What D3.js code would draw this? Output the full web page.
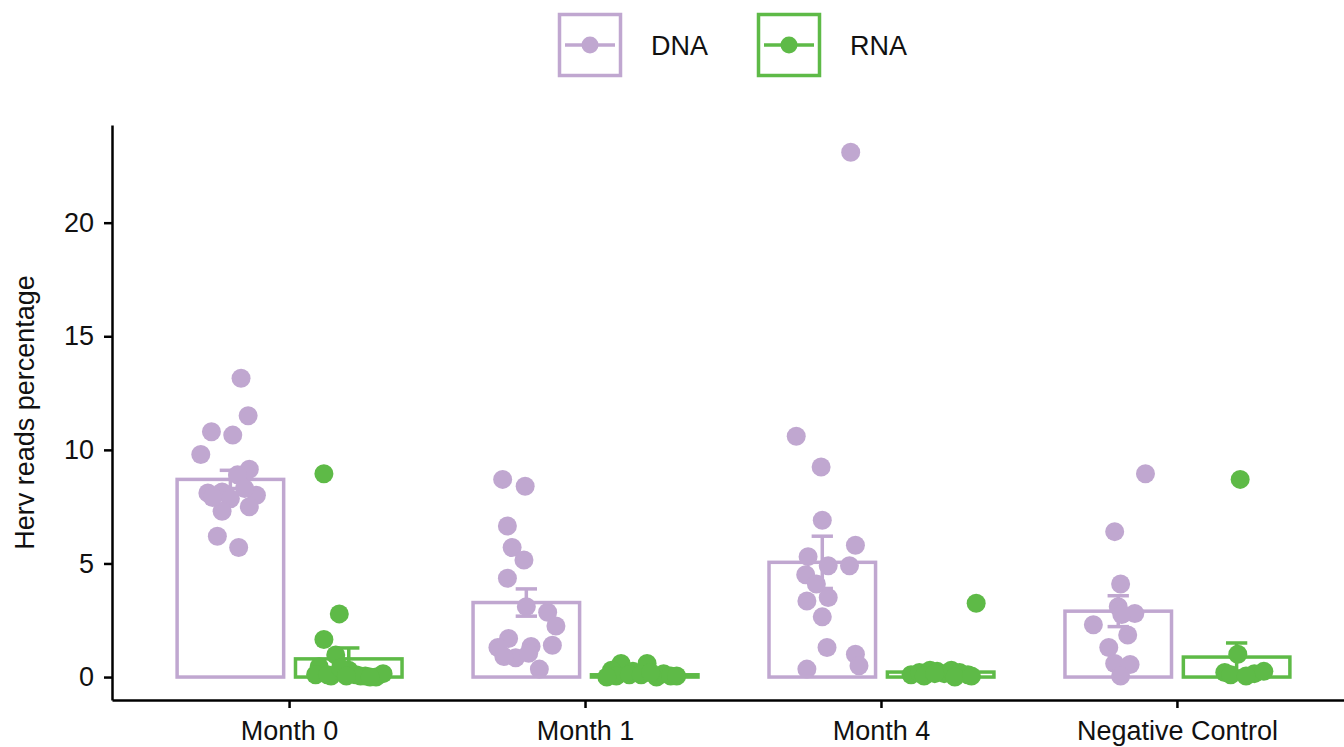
<!DOCTYPE html>
<html>
<head>
<meta charset="utf-8">
<script src="https://cdn.jsdelivr.net/npm/d3@7"></script>
<style>
  body { margin: 0; background: #fff; }
  svg { display: block; font-family: "Liberation Sans", Arial, sans-serif; }
</style>
</head>
<body>
<svg id="chart" width="1344" height="747"></svg>
<script>
'use strict';

const categories = ['Month 0', 'Month 1', 'Month 4', 'Negative Control'];
const types = ['DNA', 'RNA'];
const yTicks = [0, 5, 10, 15, 20];

// bar heights and standard errors, one per category
const dnaMean = [8.7, 3.28, 5.05, 2.9];
const dnaSe = [0.4, 0.6, 1.15, 0.68];
const rnaMean = [0.8, 0.1, 0.22, 0.88];
const rnaSe = [0.48, 0.06, 0.12, 0.62];

// individual samples: [value, jitter (fraction of dodge width)]
const dnaPoints = [
  [[13.15, 0.09], [11.5, 0.15], [10.8, -0.16], [10.65, 0.02], [9.8, -0.25], [9.15, 0.16], [8.9, 0.06],
   [8.1, -0.19], [8.15, -0.07], [8.0, 0.22], [7.85, 0.0], [8.3, 0.12], [7.3, -0.07], [7.5, 0.16],
   [6.2, -0.11], [5.7, 0.07], [7.9, -0.15]],
  [[8.7, -0.2], [8.4, -0.01], [6.65, -0.16], [5.7, -0.12], [5.15, -0.02], [4.35, -0.16], [3.1, 0.0],
   [2.85, 0.18], [2.25, 0.25], [1.4, 0.22], [1.7, -0.15], [1.3, -0.24], [0.85, -0.09], [1.35, 0.04],
   [1.05, 0.02], [0.9, -0.19], [0.35, 0.11]],
  [[23.1, 0.24], [10.6, -0.22], [9.25, -0.01], [6.9, 0.0], [5.8, 0.28], [5.3, -0.12], [4.9, 0.05],
   [4.9, 0.23], [4.5, -0.14], [4.1, -0.05], [3.5, 0.05], [3.35, -0.13], [2.65, 0.0], [1.3, 0.04],
   [1.0, 0.28], [0.5, 0.31], [0.35, -0.13]],
  [[8.95, 0.23], [6.4, -0.03], [4.1, 0.02], [3.1, 0.0], [2.8, 0.14], [2.3, -0.21], [1.85, 0.08],
   [1.3, -0.08], [0.6, -0.03], [0.55, 0.1], [0.05, 0.02], [2.75, 0.03]]
];
const rnaPoints = [
  [[8.95, -0.21], [2.78, -0.08], [1.65, -0.21], [0.97, -0.11], [0.45, -0.25], [0.1, -0.28], [0.05, -0.15],
   [0.2, -0.05], [0.1, 0.06], [0.05, 0.14], [0.0, 0.23], [0.15, 0.29], [0.3, 0.0], [0.05, 0.1],
   [0.1, -0.18], [0.4, -0.07], [0.0, 0.18], [0.05, -0.02]],
  [[0.6, -0.2], [0.6, 0.02], [0.3, -0.28], [0.25, -0.1], [0.05, -0.24], [0.1, -0.13], [0.0, 0.1],
   [0.15, 0.16], [0.05, 0.22], [0.1, -0.03], [0.0, -0.32], [0.2, 0.05], [0.05, 0.27]],
  [[3.25, 0.3], [0.1, -0.25], [0.2, -0.18], [0.3, -0.09], [0.25, -0.03], [0.15, 0.03], [0.3, 0.09],
   [0.2, 0.16], [0.1, 0.23], [0.05, -0.14], [0.0, 0.12], [0.15, -0.05], [0.05, 0.26]],
  [[8.7, 0.03], [1.0, 0.01], [0.2, -0.1], [0.1, -0.05], [0.15, 0.15], [0.25, 0.23], [0.05, 0.08]]
];

const colors = { DNA: '#c0a7d0', RNA: '#5eba47' };
const fontSize = 27;

const svg = d3.select('#chart');
const axisLeftX = 112;
const axisBottomY = 700;

const x = d3.scaleBand().domain(categories).range([axisLeftX, 1355]).paddingInner(0).paddingOuter(0.1);
const dodge = d3.scaleBand().domain(types).range([x.bandwidth() * 0.1, x.bandwidth() * 0.9]);
const y = d3.scaleLinear().domain([-1.01, 24.3]).range([axisBottomY, 125]);

const series = [
  { key: 'DNA', mean: dnaMean, se: dnaSe, points: dnaPoints },
  { key: 'RNA', mean: rnaMean, se: rnaSe, points: rnaPoints }
];

const centerOf = (cat, key) => x(cat) + dodge(key) + dodge.bandwidth() / 2;
const barWidth = dodge.bandwidth() * 0.9;
const capWidth = dodge.bandwidth() * 0.18;

const plot = svg.append('g');

series.forEach(s => {
  const g = plot.append('g').attr('class', 'series-' + s.key);
  const rows = categories.map((c, i) => ({ cat: c, mean: s.mean[i], se: s.se[i], points: s.points[i] }));

  g.selectAll('rect.bar')
    .data(rows)
    .join('rect')
    .attr('class', 'bar')
    .attr('x', d => centerOf(d.cat, s.key) - barWidth / 2)
    .attr('width', barWidth)
    .attr('y', d => y(d.mean))
    .attr('height', d => y(0) - y(d.mean))
    .attr('fill', 'none')
    .attr('stroke', colors[s.key])
    .attr('stroke-width', 3.5);

  const err = g.selectAll('g.err')
    .data(rows)
    .join('g')
    .attr('class', 'err')
    .attr('stroke', colors[s.key])
    .attr('stroke-width', 3.5);
  err.append('line')
    .attr('x1', d => centerOf(d.cat, s.key)).attr('x2', d => centerOf(d.cat, s.key))
    .attr('y1', d => y(d.mean - d.se)).attr('y2', d => y(d.mean + d.se));
  err.append('line')
    .attr('x1', d => centerOf(d.cat, s.key) - capWidth / 2).attr('x2', d => centerOf(d.cat, s.key) + capWidth / 2)
    .attr('y1', d => y(d.mean + d.se)).attr('y2', d => y(d.mean + d.se));
  err.append('line')
    .attr('x1', d => centerOf(d.cat, s.key) - capWidth / 2).attr('x2', d => centerOf(d.cat, s.key) + capWidth / 2)
    .attr('y1', d => y(d.mean - d.se)).attr('y2', d => y(d.mean - d.se));

  const pts = rows.flatMap(r => r.points.map(p => ({ cat: r.cat, value: p[0], jitter: p[1] })));
  g.selectAll('circle.pt')
    .data(pts)
    .join('circle')
    .attr('class', 'pt')
    .attr('cx', d => centerOf(d.cat, s.key) + d.jitter * dodge.bandwidth())
    .attr('cy', d => y(d.value))
    .attr('r', 9.5)
    .attr('fill', colors[s.key]);
});

// axes
const styleAxis = (g) => {
  g.selectAll('path.domain').attr('stroke', '#000').attr('stroke-width', 2.5);
  g.selectAll('.tick line').attr('stroke', '#000').attr('stroke-width', 2.5);
  g.selectAll('.tick text').attr('fill', '#111').style('font-size', fontSize + 'px');
};

svg.append('g')
  .attr('transform', `translate(${axisLeftX},0)`)
  .call(d3.axisLeft(y).tickValues(yTicks).tickSize(8).tickSizeOuter(0).tickPadding(10))
  .call(styleAxis);

svg.append('g')
  .attr('transform', `translate(0,${axisBottomY})`)
  .call(d3.axisBottom(x).tickSize(8).tickSizeOuter(0).tickPadding(13))
  .call(styleAxis);

svg.append('text')
  .attr('transform', `translate(34,${(125 + axisBottomY) / 2}) rotate(-90)`)
  .attr('text-anchor', 'middle')
  .attr('fill', '#111')
  .style('font-size', fontSize + 'px')
  .text('Herv reads percentage');

// legend
const legendX = d3.scaleOrdinal().domain(types).range([558, 757]);
const keySize = 64;
const legend = svg.append('g').attr('transform', 'translate(0,13)');
const item = legend.selectAll('g.item')
  .data(types)
  .join('g')
  .attr('class', 'item')
  .attr('transform', d => `translate(${legendX(d)},0)`);
item.append('rect')
  .attr('x', 1.5).attr('y', 1.5)
  .attr('width', keySize - 3).attr('height', keySize - 3)
  .attr('fill', 'none')
  .attr('stroke', d => colors[d])
  .attr('stroke-width', 3.5);
item.append('line')
  .attr('x1', 7).attr('x2', keySize - 7)
  .attr('y1', keySize / 2).attr('y2', keySize / 2)
  .attr('stroke', d => colors[d])
  .attr('stroke-width', 3.5);
item.append('circle')
  .attr('cx', keySize / 2).attr('cy', keySize / 2)
  .attr('r', 8.5)
  .attr('fill', d => colors[d]);
item.append('text')
  .attr('x', keySize + 29)
  .attr('y', keySize / 2)
  .attr('dy', '0.36em')
  .attr('fill', '#111')
  .style('font-size', fontSize + 'px')
  .text(d => d);
</script>
</body>
</html>
